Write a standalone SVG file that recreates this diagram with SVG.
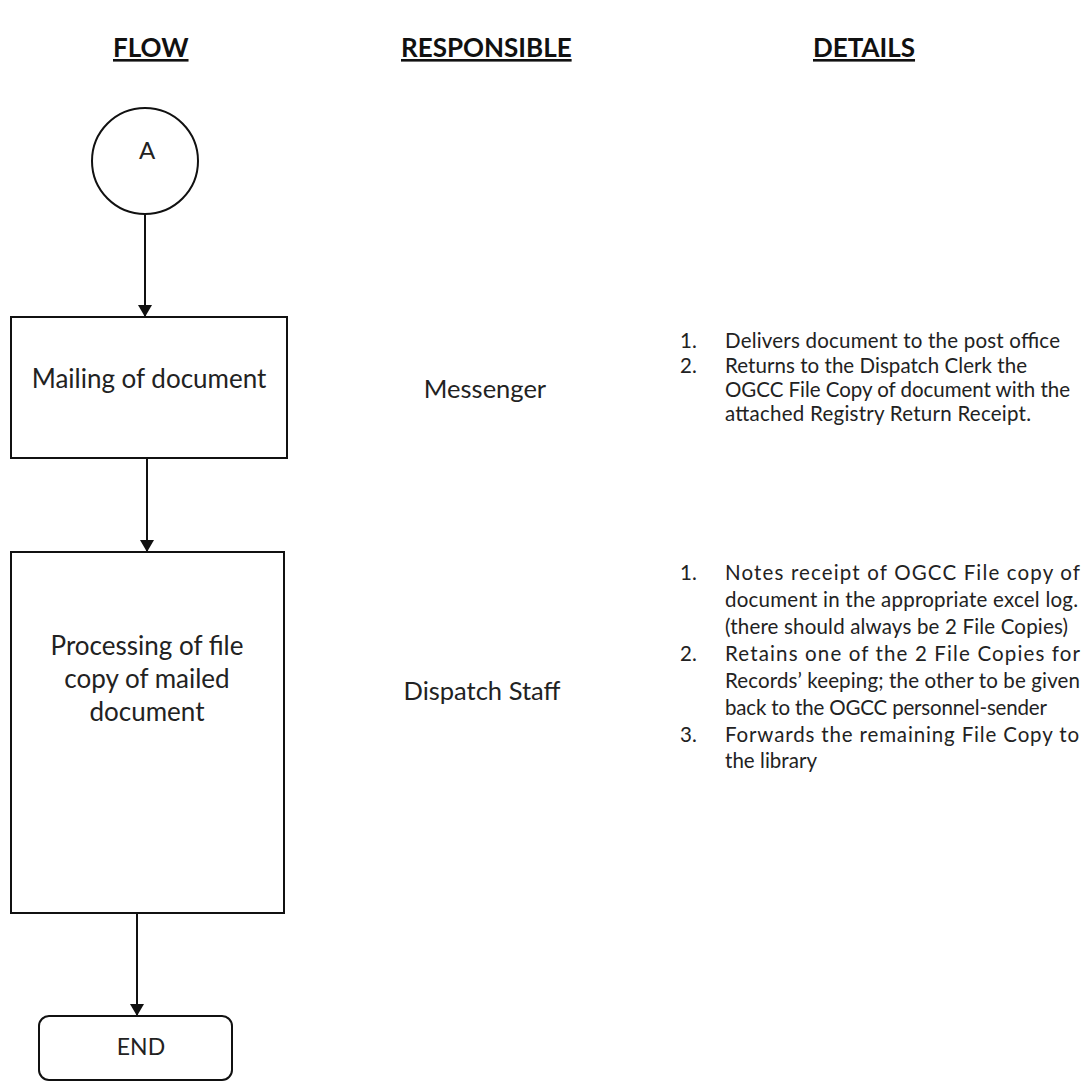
<svg xmlns="http://www.w3.org/2000/svg" width="1091" height="1082" viewBox="0 0 1091 1082">
<style>
.hdr{font-family:"Lato","Liberation Sans",sans-serif;font-weight:bold;font-size:26px;fill:#111;text-decoration:underline}
.node{fill:#fff;stroke:#111;stroke-width:2}
.lbl{font-family:"Lato","Liberation Sans",sans-serif;font-size:26px;fill:#222;text-anchor:middle}
.resp{font-family:"Lato","Liberation Sans",sans-serif;font-size:25.5px;fill:#222;text-anchor:middle}
.det{font-family:"Lato","Liberation Sans",sans-serif;font-size:20.5px;fill:#222}
.conn{stroke:#111;stroke-width:2;fill:none}
</style>
<defs>
<marker id="ah" viewBox="0 0 12 14" refX="12" refY="7" markerWidth="12" markerHeight="14" markerUnits="userSpaceOnUse" orient="auto">
<path d="M0,0 L12,7 L0,14 z" fill="#111"/>
</marker>
</defs>
<rect width="1091" height="1082" fill="#fff"/>
<g id="headers">
<text class="hdr" x="113" y="57">FLOW</text>
<text class="hdr" x="401" y="57">RESPONSIBLE</text>
<text class="hdr" x="813" y="57">DETAILS</text>
</g>
<g id="connectors">
<line class="conn" x1="145" y1="214" x2="145" y2="317" marker-end="url(#ah)"/>
<line class="conn" x1="147" y1="458" x2="147" y2="552" marker-end="url(#ah)"/>
<line class="conn" x1="137" y1="913" x2="137" y2="1016" marker-end="url(#ah)"/>
</g>
<g id="node-A">
<circle class="node" cx="145" cy="161" r="53"/>
<text class="lbl" x="147" y="159" style="font-size:24px">A</text>
</g>
<g id="node-mailing">
<rect class="node" x="11" y="317" width="276" height="141"/>
<text class="lbl" x="149" y="388">Mailing of document</text>
</g>
<g id="node-processing">
<rect class="node" x="11" y="552" width="273" height="361"/>
<text class="lbl" x="147" y="655">Processing of file</text>
<text class="lbl" x="147" y="688">copy of mailed</text>
<text class="lbl" x="147" y="721">document</text>
</g>
<g id="node-end">
<rect class="node" x="39" y="1016" width="193" height="64" rx="10"/>
<text class="lbl" x="141" y="1055" style="font-size:23px">END</text>
</g>
<g id="responsible">
<text class="resp" x="485" y="398">Messenger</text>
<text class="resp" x="482" y="700">Dispatch Staff</text>
</g>
<g id="details-mailing">
<text class="det" x="680" y="348">1.</text>
<text class="det" x="725" y="348" textLength="335" lengthAdjust="spacing">Delivers document to the post office</text>
<text class="det" x="680" y="373">2.</text>
<text class="det" x="725" y="373" textLength="302" lengthAdjust="spacing">Returns to the Dispatch Clerk the</text>
<text class="det" x="725" y="397" textLength="345" lengthAdjust="spacing">OGCC File Copy of document with the</text>
<text class="det" x="725" y="421" textLength="306" lengthAdjust="spacing">attached Registry Return Receipt.</text>
</g>
<g id="details-processing">
<text class="det" x="680" y="580">1.</text>
<text class="det" x="725" y="580" textLength="355" lengthAdjust="spacing">Notes receipt of OGCC File copy of</text>
<text class="det" x="725" y="607" textLength="353" lengthAdjust="spacing">document in the appropriate excel log.</text>
<text class="det" x="725" y="634" textLength="343" lengthAdjust="spacing">(there should always be 2 File Copies)</text>
<text class="det" x="680" y="661">2.</text>
<text class="det" x="725" y="661" textLength="355" lengthAdjust="spacing">Retains one of the 2 File Copies for</text>
<text class="det" x="725" y="688" textLength="355" lengthAdjust="spacing">Records’ keeping; the other to be given</text>
<text class="det" x="725" y="715" textLength="322" lengthAdjust="spacing">back to the OGCC personnel-sender</text>
<text class="det" x="680" y="742">3.</text>
<text class="det" x="725" y="742" textLength="354" lengthAdjust="spacing">Forwards the remaining File Copy to</text>
<text class="det" x="725" y="768" textLength="92" lengthAdjust="spacing">the library</text>
</g>
</svg>
